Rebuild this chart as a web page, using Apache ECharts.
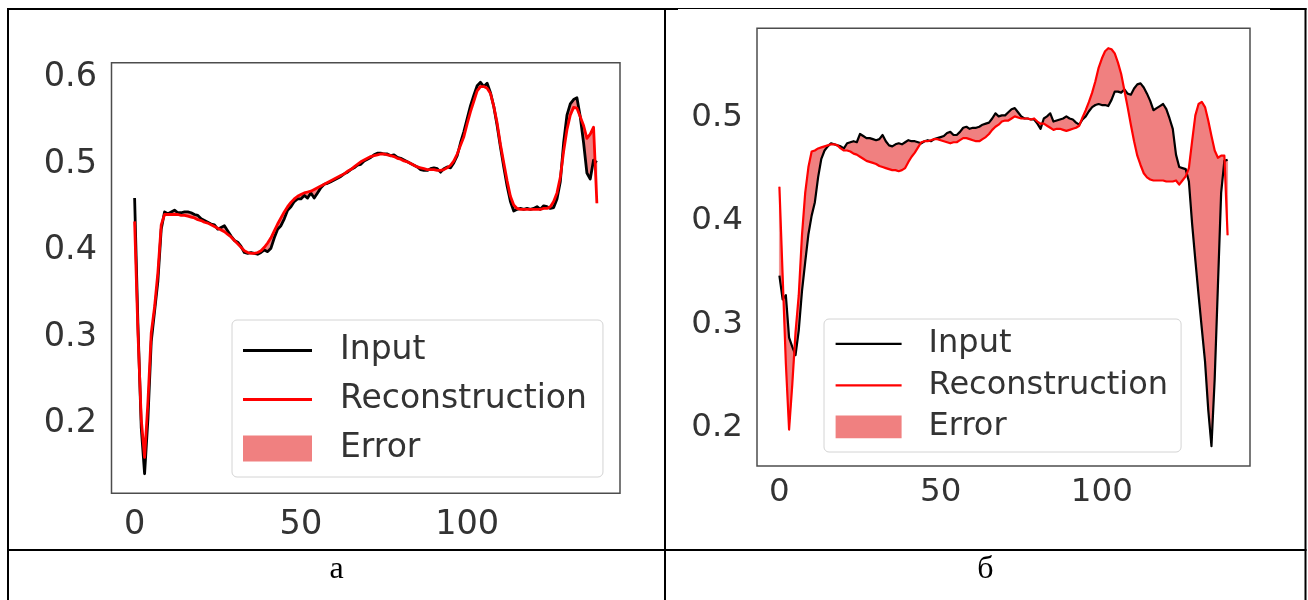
<!DOCTYPE html>
<html>
<head>
<meta charset="utf-8">
<script src="https://cdn.jsdelivr.net/npm/echarts@6/dist/echarts.min.js"></script>
<style>
html,body{margin:0;padding:0;background:#fff;}
#chart{width:1308px;height:600px;}
</style>
</head>
<body>
<div id="chart"></div>
<script>
// ---- data ----
const inputA = [
 .456,.310,.190,.137,.200,.290,.325,.360,.420,.440,
 .438,.440,.442,.439,.439,.440,.440,.439,.437,.436,
 .432,.430,.428,.426,.425,.420,.422,.424,.418,.412,
 .407,.405,.400,.393,.392,.393,.392,.391,.393,.396,
 .394,.398,.410,.420,.424,.432,.442,.446,.452,.455,
 .455,.459,.456,.462,.456,.462,.468,.472,.473,.475,
 .477,.479,.481,.484,.486,.489,.491,.494,.495,.499,
 .501,.503,.506,.508,.508,.507,.507,.505,.506,.503,
 .502,.500,.498,.496,.494,.492,.489,.488,.488,.490,
 .491,.490,.486,.490,.492,.491,.497,.505,.520,.533,
 .548,.563,.575,.586,.590,.585,.589,.578,.562,.540,
 .515,.492,.470,.452,.441,.443,.444,.443,.444,.443,
 .444,.446,.443,.447,.446,.444,.445,.455,.475,.520,
 .552,.565,.570,.572,.550,.520,.485,.478,.500,.497];
const reconA = [
 .429,.300,.200,.156,.220,.300,.330,.370,.425,.437,
 .437,.437,.437,.437,.436,.436,.435,.434,.433,.431,
 .430,.428,.427,.425,.423,.421,.419,.417,.414,.411,
 .407,.403,.399,.395,.393,.392,.392,.393,.395,.399,
 .404,.410,.418,.426,.433,.440,.446,.451,.455,.458,
 .460,.462,.463,.464,.466,.468,.470,.472,.474,.476,
 .478,.480,.482,.484,.487,.489,.492,.495,.498,.500,
 .502,.504,.505,.506,.507,.507,.506,.505,.504,.502,
 .501,.499,.498,.496,.494,.492,.491,.490,.489,.489,
 .489,.488,.488,.489,.491,.494,.499,.507,.517,.527,
 .542,.556,.568,.580,.585,.585,.583,.577,.562,.543,
 .518,.497,.476,.458,.448,.444,.443,.443,.443,.443,
 .443,.443,.443,.444,.444,.446,.452,.462,.480,.510,
 .535,.552,.561,.560,.550,.540,.525,.530,.538,.450];
const inputB = [
 .345,.322,.326,.285,.276,.268,.292,.330,.358,.385,
 .403,.416,.440,.458,.466,.470,.473,.472,.471,.470,
 .468,.473,.474,.475,.474,.482,.480,.478,.478,.477,
 .476,.477,.481,.475,.471,.470,.472,.473,.472,.474,
 .476,.475,.475,.474,.473,.475,.476,.475,.477,.478,
 .479,.480,.483,.484,.481,.481,.484,.488,.489,.487,
 .488,.488,.489,.491,.492,.493,.497,.502,.499,.500,
 .500,.503,.506,.507,.503,.499,.497,.497,.496,.496,
 .492,.487,.497,.499,.502,.494,.495,.496,.497,.499,
 .497,.496,.493,.491,.496,.499,.504,.508,.510,.511,
 .510,.510,.509,.515,.523,.523,.522,.525,.521,.520,
 .526,.530,.531,.527,.521,.514,.505,.507,.509,.511,
 .506,.497,.487,.462,.450,.449,.448,.436,.395,.360,
 .326,.294,.262,.215,.180,.245,.335,.425,.456,.457];
const reconB = [
 .431,.345,.260,.196,.240,.290,.326,.384,.425,.450,
 .465,.466,.468,.469,.470,.471,.472,.472,.471,.468,
 .466,.466,.465,.463,.462,.460,.458,.456,.455,.454,
 .453,.451,.450,.449,.448,.447,.447,.446,.447,.449,
 .455,.460,.464,.469,.474,.475,.475,.476,.477,.477,
 .476,.475,.474,.473,.474,.474,.476,.478,.478,.477,
 .476,.475,.475,.477,.479,.482,.486,.489,.491,.494,
 .495,.495,.497,.499,.498,.497,.497,.497,.496,.497,
 .494,.492,.492,.490,.488,.486,.487,.487,.486,.485,
 .486,.487,.488,.490,.498,.505,.513,.522,.533,.546,
 .555,.562,.565,.564,.560,.551,.540,.524,.508,.491,
 .475,.461,.452,.444,.440,.438,.437,.437,.437,.437,
 .436,.436,.436,.437,.433,.437,.441,.449,.475,.500,
 .511,.513,.508,.495,.480,.466,.459,.461,.461,.384];
const xTicks = [0, 50, 100];
const yTicksA = [0.2, 0.3, 0.4, 0.5, 0.6];
const yTicksB = [0.2, 0.3, 0.4, 0.5];
const legendNames = ['Input', 'Reconstruction', 'Error'];
const captions = ['а', 'б'];

// ---- helpers (derive what the library needs from the arrays) ----
const pts = a => a.map((v, i) => [i, v]);
function yExt(a, b) {
  const all = a.concat(b);
  const lo = Math.min(...all), hi = Math.max(...all), p = (hi - lo) * 0.05;
  return [lo - p, hi + p];
}
function xExt(a) { const n = a.length - 1; return [-0.05 * n, 1.05 * n]; }
function iconPath(w, h, tw, th) {
  const y0 = (th - h) / 2;
  return 'path://M0,0 M0,' + y0 + ' L' + w + ',' + y0 + ' L' + w + ',' + (y0 + h) +
         ' L0,' + (y0 + h) + ' Z M' + tw + ',' + th;
}

const FONT = 'DejaVu Sans';
const TXT = '#333333';
const FILL = '#F08080';

function panel(idx, inp, rec, yTicks, cfg) {
  const xe = xExt(inp), ye = yExt(inp, rec);
  const grid = {
    left: cfg.left, top: cfg.top, width: cfg.width, height: cfg.height,
    show: true, borderColor: '#4d4d4d', borderWidth: 1.5, backgroundColor: 'transparent',
    outerBoundsMode: 'none', containLabel: false
  };
  const xAxis = {
    gridIndex: idx, type: 'value', min: xe[0], max: xe[1],
    axisLine: {show: false}, axisTick: {show: false}, splitLine: {show: false},
    axisLabel: {customValues: xTicks, fontSize: cfg.fs, color: TXT, fontFamily: FONT, margin: cfg.xm}
  };
  const yAxis = {
    gridIndex: idx, type: 'value', min: ye[0], max: ye[1],
    axisLine: {show: false}, axisTick: {show: false}, splitLine: {show: false},
    axisLabel: {customValues: yTicks, fontSize: cfg.fs, color: TXT, fontFamily: FONT, margin: cfg.ym,
                verticalAlign: 'top', lineHeight: cfg.ylh}
  };
  const series = [
    {type: 'custom', name: 'Error', xAxisIndex: idx, yAxisIndex: idx, silent: true, clip: true,
     data: inp.map((v, i) => [i, v, rec[i]]), encode: {x: 0, y: [1, 2]},
     itemStyle: {color: FILL},
     renderItem: function (params, api) {
       if (params.dataIndexInside !== 0) return null;
       const upper = inp.map((v, i) => api.coord([i, v]));
       const lowerPts = rec.map((v, i) => api.coord([i, v])).reverse();
       return {type: 'polygon', shape: {points: upper.concat(lowerPts)},
               style: {fill: FILL, stroke: FILL, lineWidth: 0.6}};
     }},
    {type: 'line', name: 'Input', xAxisIndex: idx, yAxisIndex: idx, data: pts(inp),
     symbol: 'none', showSymbol: false, silent: true, color: '#000000',
     lineStyle: {width: cfg.lw, color: '#000000', join: 'round'}},
    {type: 'line', name: 'Reconstruction', xAxisIndex: idx, yAxisIndex: idx, data: pts(rec),
     symbol: 'none', showSymbol: false, silent: true, color: '#ff0000',
     lineStyle: {width: cfg.lw, color: '#ff0000', join: 'round'}}
  ];
  const L = cfg.legend;
  const legend = {
    orient: 'vertical', left: L.left, top: L.top, padding: L.padding,
    itemGap: L.gap, itemWidth: L.iw, itemHeight: L.ih, selectedMode: false,
    backgroundColor: 'rgba(255,255,255,0.8)', borderColor: '#d4d4d4', borderWidth: 1, borderRadius: 5,
    textStyle: {fontSize: L.fs, color: TXT, fontFamily: FONT},
    itemStyle: {borderWidth: 0},
    data: [
      {name: legendNames[0], icon: iconPath(L.vw, L.lh, L.iw, L.ih), itemStyle: {color: '#000000', borderWidth: 0}},
      {name: legendNames[1], icon: iconPath(L.vw, L.lh, L.iw, L.ih), itemStyle: {color: '#ff0000', borderWidth: 0}},
      {name: legendNames[2], icon: iconPath(L.vw, L.ph, L.iw, L.ih), itemStyle: {color: FILL, borderWidth: 0}}
    ]
  };
  return {grid, xAxis, yAxis, series, legend};
}

const A = panel(0, inputA, reconA, yTicksA, {
  left: 111.5, top: 62.7, width: 508.5, height: 430.6, fs: 33.5, xm: 14.6, ym: 14.5, lw: 2.8, ylh: 8,
  legend: {left: 232, top: 320, padding: [14, 16, 12, 11], gap: 16, iw: 92, ih: 30, vw: 69, lh: 3, ph: 26, fs: 33}
});
const B = panel(1, inputB, reconB, yTicksB, {
  left: 757, top: 28.3, width: 493, height: 437.7, fs: 32.5, xm: 9.8, ym: 14, lw: 2.2, ylh: 4,
  legend: {left: 824, top: 319, padding: [8.9, 13, 9.1, 11.6], gap: 9.5, iw: 88, ih: 26, vw: 66, lh: 2.4, ph: 22.7, fs: 32}
});

const K = '#000000';
const hl = (x1, x2, y, w) => ({type: 'line', silent: true, z: 100, shape: {x1, y1: y, x2, y2: y}, style: {stroke: K, lineWidth: w}});
const vl = (x, y1, y2, w) => ({type: 'line', silent: true, z: 100, shape: {x1: x, y1, x2: x, y2}, style: {stroke: K, lineWidth: w}});

const option = {
  animation: false,
  backgroundColor: '#ffffff',
  grid: [A.grid, B.grid],
  xAxis: [A.xAxis, B.xAxis],
  yAxis: [A.yAxis, B.yAxis],
  legend: [A.legend, B.legend],
  series: A.series.concat(B.series),
  graphic: [
    hl(7, 678, 9, 2), hl(678, 1270, 8.5, 1), hl(1270, 1306.5, 9, 2),
    hl(7, 1306.5, 550, 2),
    vl(8, 8, 600, 2), vl(665, 8, 600, 2), vl(1305.5, 8, 600, 2),
    {type: 'text', silent: true, z: 100, style: {text: captions[0], x: 336.5, y: 570, align: 'center', verticalAlign: 'middle',
      font: '32px "Liberation Serif"', fill: K}},
    {type: 'text', silent: true, z: 100, style: {text: captions[1], x: 985.5, y: 570, align: 'center', verticalAlign: 'middle',
      font: '32px "Liberation Serif"', fill: K}}
  ]
};
const chart = echarts.init(document.getElementById('chart'), null, {renderer: 'canvas'});
chart.setOption(option);
</script>
</body>
</html>
